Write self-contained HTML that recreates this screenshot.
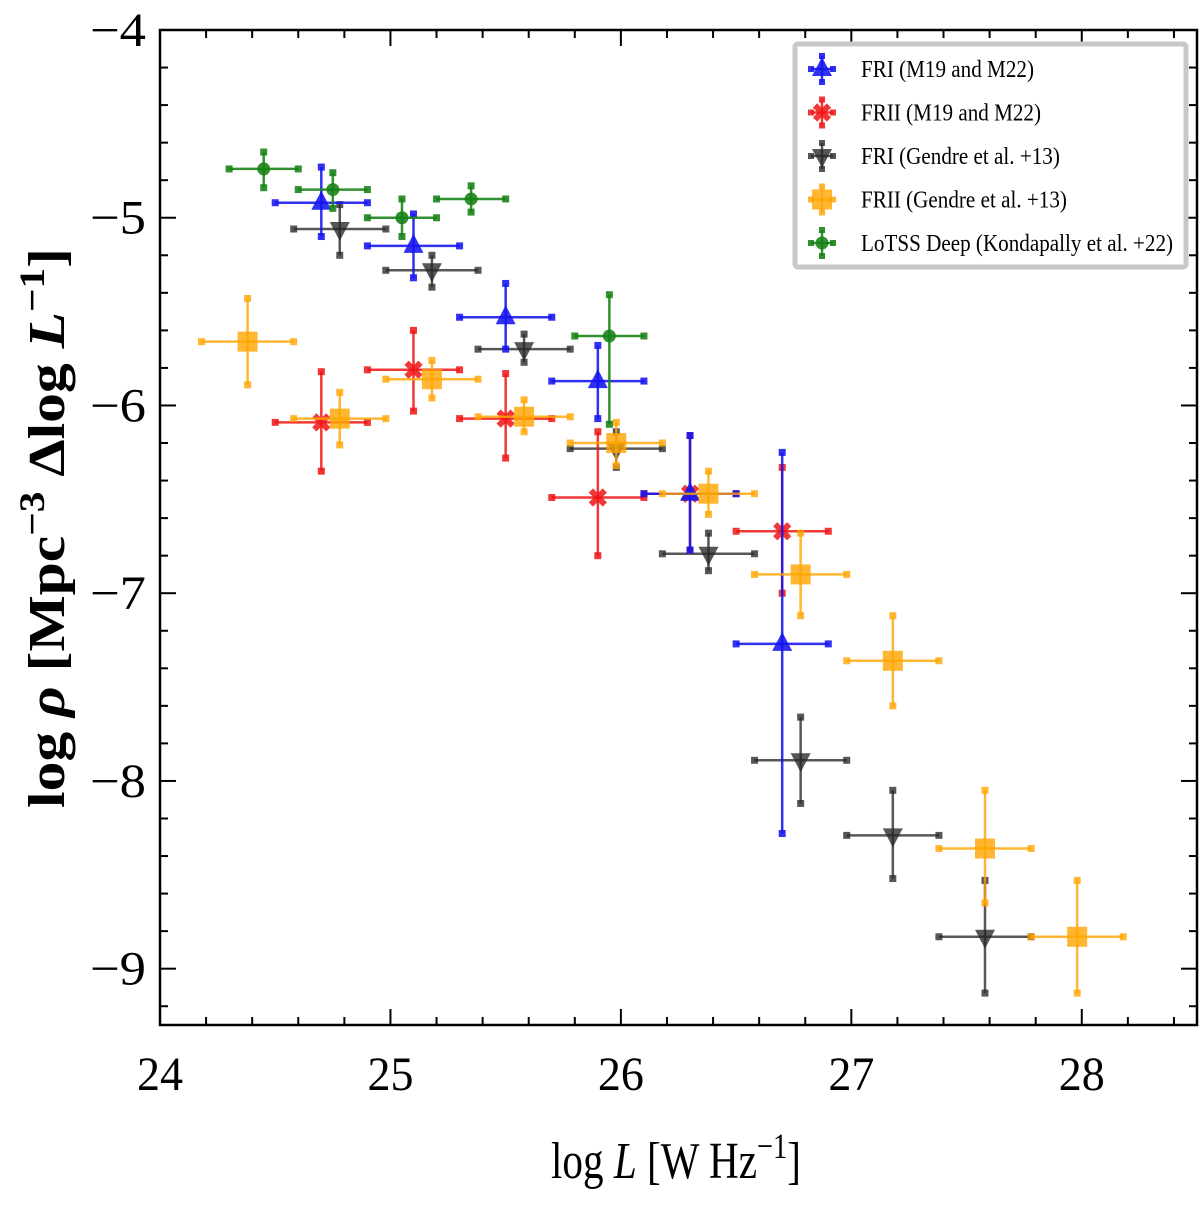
<!DOCTYPE html>
<html><head><meta charset="utf-8"><style>
html,body{margin:0;padding:0;background:#fff;}
svg text{font-family:"Liberation Serif",serif;}
</style></head><body>
<svg id="chart" width="1200" height="1205" xmlns="http://www.w3.org/2000/svg">
<rect x="0" y="0" width="1200" height="1205" fill="#fff"/>
<g id="marks"></g>
<g id="axes"></g>
<g id="legend">
<rect x="795" y="44" width="391" height="223" fill="#fff" stroke="#c8c8c8" stroke-width="5" rx="3"/>
</g>
<text x="676" y="1178" font-size="52" text-anchor="middle" textLength="250" lengthAdjust="spacingAndGlyphs">log <tspan font-style="italic">L</tspan> [W Hz<tspan dy="-20" font-size="36">−1</tspan><tspan dy="20">]</tspan></text>
<text transform="translate(64,528) rotate(-90)" font-size="52" font-weight="bold" text-anchor="middle" textLength="560" lengthAdjust="spacingAndGlyphs">log <tspan font-style="italic">ρ</tspan> [Mpc<tspan dy="-20" font-size="36">−3</tspan><tspan dy="20"> Δlog </tspan><tspan font-style="italic">L</tspan><tspan dy="-20" font-size="36">−1</tspan><tspan dy="20">]</tspan></text>
</svg>
<script>
// Data arrays
const friM_x = [24.7, 25.1, 25.5, 25.9, 26.3, 26.7];
const friM_y = [-4.92, -5.15, -5.53, -5.87, -6.47, -7.27];
const friM_lo = [-5.10, -5.32, -5.70, -6.07, -6.77, -8.28];
const friM_hi = [-4.73, -4.98, -5.35, -5.68, -6.16, -6.25];
const friiM_x = [24.7, 25.1, 25.5, 25.9, 26.3, 26.7];
const friiM_y = [-6.09, -5.81, -6.07, -6.49, -6.47, -6.67];
const friiM_lo = [-6.35, -6.03, -6.28, -6.80, -6.77, -7.00];
const friiM_hi = [-5.82, -5.60, -5.83, -6.14, -6.16, -6.33];
const friG_x = [24.78, 25.18, 25.58, 25.98, 26.38, 26.78, 27.18, 27.58];
const friG_y = [-5.06, -5.28, -5.70, -6.23, -6.79, -7.89, -8.29, -8.83];
const friG_lo = [-5.20, -5.37, -5.77, -6.33, -6.88, -8.12, -8.52, -9.13];
const friG_hi = [-4.93, -5.20, -5.62, -6.14, -6.68, -7.66, -8.05, -8.53];
const friiG_x = [24.38, 24.78, 25.18, 25.58, 25.98, 26.38, 26.78, 27.18, 27.58, 27.98];
const friiG_y = [-5.66, -6.07, -5.86, -6.06, -6.20, -6.47, -6.90, -7.36, -8.36, -8.83];
const friiG_lo = [-5.89, -6.21, -5.96, -6.14, -6.32, -6.58, -7.12, -7.60, -8.65, -9.13];
const friiG_hi = [-5.43, -5.93, -5.76, -5.97, -6.09, -6.35, -6.68, -7.12, -8.05, -8.53];
const lot_x = [24.45, 24.75, 25.05, 25.35, 25.95];
const lot_y = [-4.74, -4.85, -5.00, -4.90, -5.63];
const lot_lo = [-4.84, -4.95, -5.10, -4.97, -6.10];
const lot_hi = [-4.65, -4.76, -4.90, -4.83, -5.41];
const xTicks = [24, 25, 26, 27, 28];
const yTicks = [-4, -5, -6, -7, -8, -9];

const X0=160, X1=1197, Y0=30, Y1=1025;
const xmin=24, xmax=28.5, ymin=-9.3, ymax=-4;
function sx(v){return X0+(v-xmin)/(xmax-xmin)*(X1-X0);}
function sy(v){return Y0+(ymax-v)/(ymax-ymin)*(Y1-Y0);}
const NS="http://www.w3.org/2000/svg";
function mk(tag,attrs,parent){const e=document.createElementNS(NS,tag);for(const k in attrs)e.setAttribute(k,attrs[k]);parent.appendChild(e);return e;}

function marker(g,type,cx,cy,color){
  const r=10;
  if(type==='tri-up') mk('polygon',{points:`${cx},${cy-r*1.2} ${cx-r},${cy+r*0.7} ${cx+r},${cy+r*0.7}`,fill:color},g);
  else if(type==='tri-down') mk('polygon',{points:`${cx},${cy+r*1.2} ${cx-r},${cy-r*0.7} ${cx+r},${cy-r*0.7}`,fill:color},g);
  else if(type==='square') mk('rect',{x:cx-10,y:cy-10,width:20,height:20,fill:color},g);
  else if(type==='circle') mk('circle',{cx:cx,cy:cy,r:6.5,fill:color},g);
  else if(type==='x'){mk('path',{d:`M${cx-7},${cy-7}L${cx+7},${cy+7}M${cx+7},${cy-7}L${cx-7},${cy+7}`,stroke:color,'stroke-width':6},g);}
}
function errpt(g,x,y,xl,xh,yl,yh,color,type){
  const cx=sx(x),cy=sy(y);
  mk('line',{x1:sx(xl),x2:sx(xh),y1:cy,y2:cy,stroke:color,'stroke-width':2.5},g);
  mk('line',{x1:cx,x2:cx,y1:sy(yl),y2:sy(yh),stroke:color,'stroke-width':2.5},g);
  [[sx(xl),cy],[sx(xh),cy],[cx,sy(yl)],[cx,sy(yh)]].forEach(p=>mk('rect',{x:p[0]-3.5,y:p[1]-3.5,width:7,height:7,fill:color},g));
  marker(g,type,cx,cy,color);
}
const marks=document.getElementById('marks');
const series=[
 {name:'fri-gendre',x:friG_x,y:friG_y,lo:friG_lo,hi:friG_hi,dx:0.2,c:'rgba(40,40,40,0.78)',t:'tri-down'},
 {name:'frii-m19-m22',x:friiM_x,y:friiM_y,lo:friiM_lo,hi:friiM_hi,dx:0.2,c:'rgba(240,20,20,0.85)',t:'x'},
 {name:'fri-m19-m22',x:friM_x,y:friM_y,lo:friM_lo,hi:friM_hi,dx:0.2,c:'rgba(20,20,240,0.88)',t:'tri-up'},
 {name:'frii-gendre',x:friiG_x,y:friiG_y,lo:friiG_lo,hi:friiG_hi,dx:0.2,c:'rgba(255,165,0,0.8)',t:'square'},
 {name:'lotss-deep',x:lot_x,y:lot_y,lo:lot_lo,hi:lot_hi,dx:0.15,c:'rgba(20,130,20,0.88)',t:'circle'}
];
series.forEach(s=>{
  const g=mk('g',{},marks);
  
  
  s.x.forEach((xv,i)=>{
    const pg=mk('g',{},g);
    
    
    errpt(pg,xv,s.y[i],xv-s.dx,xv+s.dx,s.lo[i],s.hi[i],s.c,s.t);
  });
});
// Axes
const ax=document.getElementById('axes');
const frame=mk('rect',{x:X0,y:Y0,width:X1-X0,height:Y1-Y0,fill:'none',stroke:'#000','stroke-width':2.5},ax);


for(let v=24;v<=28.5001;v+=0.2){
  const major=Math.abs(v-Math.round(v))<1e-6, L=major?16:8, px=sx(v);
  mk('line',{x1:px,x2:px,y1:Y1,y2:Y1-L,stroke:'#000','stroke-width':2},ax);
  mk('line',{x1:px,x2:px,y1:Y0,y2:Y0+L,stroke:'#000','stroke-width':2},ax);
}
for(let v=-9.2;v<=-4.0001+0.0002;v+=0.2){
  const major=Math.abs(v-Math.round(v))<1e-6, L=major?16:8, py=sy(v);
  mk('line',{x1:X0,x2:X0+L,y1:py,y2:py,stroke:'#000','stroke-width':2},ax);
  mk('line',{x1:X1,x2:X1-L,y1:py,y2:py,stroke:'#000','stroke-width':2},ax);
}
xTicks.forEach(v=>{
  const t=mk('text',{x:sx(v),y:1090,'font-size':48,'text-anchor':'middle',textLength:46,lengthAdjust:'spacingAndGlyphs'},ax);
  t.textContent=String(v);
  
  
});
yTicks.forEach(v=>{
  const t=mk('text',{x:146,y:sy(v)+16,'font-size':48,'text-anchor':'end',textLength:56,lengthAdjust:'spacingAndGlyphs'},ax);
  t.textContent='−'+Math.abs(v);
  
  
});
// Legend
const leg=document.getElementById('legend');
const legItems=[
 ['FRI (M19 and M22)',series[2]],['FRII (M19 and M22)',series[1]],['FRI (Gendre et al. +13)',series[0]],
 ['FRII (Gendre et al. +13)',series[3]],['LoTSS Deep (Kondapally et al. +22)',series[4]]];
legItems.forEach((it,i)=>{
  const cy=69+i*43.5;
  const g=mk('g',{},leg);
  
  
  const c=it[1].c, cx=822;
  mk('line',{x1:cx-11,x2:cx+11,y1:cy,y2:cy,stroke:c,'stroke-width':2.5},g);
  mk('line',{x1:cx,x2:cx,y1:cy-13,y2:cy+13,stroke:c,'stroke-width':2.5},g);
  [[cx-11,cy],[cx+11,cy],[cx,cy-13],[cx,cy+13]].forEach(p=>mk('rect',{x:p[0]-3,y:p[1]-3,width:6,height:6,fill:c},g));
  marker(g,it[1].t,cx,cy,c);
  const t=mk('text',{x:861,y:cy+8,'font-size':24,transform:`translate(861,0) scale(0.88,1) translate(-861,0)`},g);
  t.textContent=it[0];
});
</script>
</body></html>
